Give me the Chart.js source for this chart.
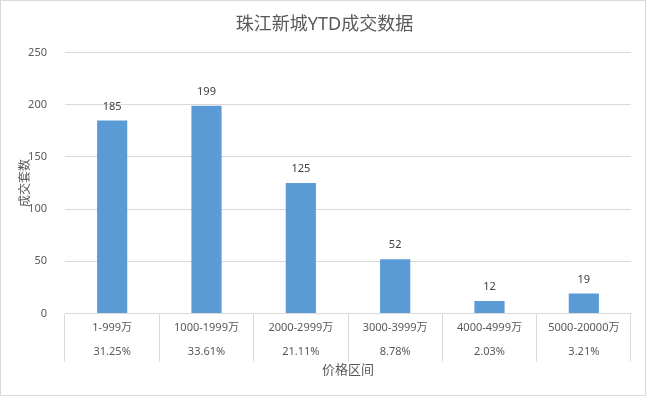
<!DOCTYPE html>
<html>
<head>
<meta charset="utf-8">
<script src="https://cdn.jsdelivr.net/npm/chart.js@4"></script>
<style>
  html, body { margin: 0; padding: 0; background: #fff; }
  #wrap { width: 646px; height: 396px; box-sizing: border-box; border: 1px solid #d9d9d9; }
</style>
</head>
<body>
<div id="wrap"><canvas id="chart" width="644" height="394"></canvas></div>
<script>
// chart data
const categories = ['1-999万', '1000-1999万', '2000-2999万', '3000-3999万', '4000-4999万', '5000-20000万'];
const shares = ['31.25%', '33.61%', '21.11%', '8.78%', '2.03%', '3.21%'];
const counts = [185, 199, 125, 52, 12, 19];
const yTicks = [0, 50, 100, 150, 200, 250];

const FONT = '"Noto Sans", "Noto Sans CJK SC", sans-serif';
const TEXT = '#595959';

// value labels above bars + two-row category labels inside the tick boxes
const barLabels = {
  id: 'barLabels',
  afterDraw(chart) {
    const ctx = chart.ctx;
    const meta = chart.getDatasetMeta(0);
    const x = chart.scales.x;
    const bottom = chart.chartArea.bottom;
    ctx.save();
    ctx.font = '11px ' + FONT;
    ctx.textAlign = 'center';
    ctx.textBaseline = 'middle';
    ctx.fillStyle = '#404040';
    meta.data.forEach((bar, i) => {
      ctx.fillText(String(counts[i]), bar.x, bar.y - 14);
    });
    ctx.fillStyle = TEXT;
    categories.forEach((c, i) => {
      const px = x.getPixelForTick(i);
      ctx.fillText(c, px, bottom + 14);
      ctx.fillText(shares[i], px, bottom + 38);
    });
    ctx.restore();
  }
};

const ctx = document.getElementById('chart').getContext('2d');
new Chart(ctx, {
  type: 'bar',
  data: {
    labels: categories,
    datasets: [{
      data: counts,
      backgroundColor: '#5b9bd5',
      categoryPercentage: 1,
      barPercentage: 0.32
    }]
  },
  options: {
    responsive: false,
    animation: false,
    layout: { padding: { left: 17, right: 14, top: 5, bottom: 17 } },
    plugins: {
      legend: { display: false },
      tooltip: { enabled: false },
      title: {
        display: true,
        text: '珠江新城YTD成交数据',
        color: TEXT,
        font: { family: FONT, size: 18, weight: 'normal' },
        padding: { top: 8, bottom: 17 }
      }
    },
    scales: {
      x: {
        offset: true,
        grid: {
          offset: true,
          drawOnChartArea: false,
          drawTicks: true,
          tickLength: 48,
          color: '#d9d9d9'
        },
        border: { color: '#d9d9d9' },
        ticks: { display: false },
        title: {
          display: true,
          text: '价格区间',
          color: TEXT,
          font: { family: FONT, size: 13 },
          padding: { top: 1, bottom: 0 }
        }
      },
      y: {
        min: 0,
        max: 250,
        afterBuildTicks(axis) {
          axis.ticks = yTicks.map(v => ({ value: v }));
        },
        afterFit(axis) {
          axis.width = 47;
        },
        grid: { color: '#d9d9d9', drawTicks: false },
        border: { display: false },
        ticks: {
          color: TEXT,
          padding: 18,
          font: { family: FONT, size: 11 }
        },
        title: {
          display: true,
          text: '成交套数',
          color: TEXT,
          font: { family: FONT, size: 12 },
          padding: { top: 0, bottom: 2 }
        }
      }
    }
  },
  plugins: [barLabels]
});
</script>
</body>
</html>
